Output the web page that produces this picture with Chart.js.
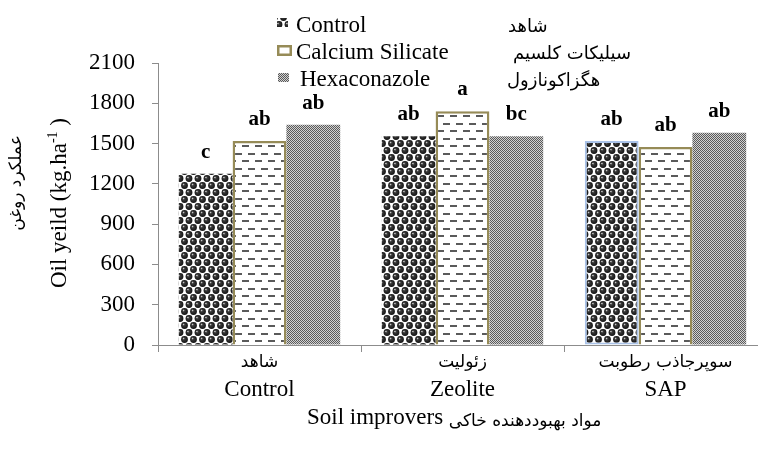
<!DOCTYPE html>
<html>
<head>
<meta charset="utf-8">
<script src="https://cdn.jsdelivr.net/npm/chart.js@4.4.1/dist/chart.umd.min.js"></script>
<style>
html,body{margin:0;padding:0;background:#fff;overflow:hidden;width:758px;height:453px;}
#wrap{width:767px;height:453px;overflow:hidden;}
</style>
</head>
<body>
<div id="wrap"><canvas id="c" width="767" height="453"></canvas></div>
<script>
// ---- data ----
const categories = ['Control', 'Zeolite', 'SAP'];
const categoriesFa = ['شاهد', 'زئولیت', 'سوپرجاذب رطوبت'];
const seriesNames = ['Control', 'Calcium Silicate', 'Hexaconazole'];
const seriesNamesFa = ['شاهد', 'سیلیکات کلسیم', 'هگزاکونازول'];
const controlValues = [1275, 1555, 1520];
const calciumValues = [1520, 1740, 1475];
const hexaValues = [1640, 1555, 1580];
const controlLetters = ['c', 'ab', 'ab'];
const calciumLetters = ['ab', 'a', 'ab'];
const hexaLetters = ['ab', 'bc', 'ab'];
const yTickMin = 0, yTickMax = 2100, yTickStep = 300;
const yTitle = 'Oil yeild (kg.ha';
const yTitleSup = '-1';
const yTitleEnd = ' )';
const yTitleFa = 'عملکرد روغن';
const xTitle = 'Soil improvers';
const xTitleFa = 'مواد بهبوددهنده خاکی';

const SERIF = '"Liberation Serif", "Times New Roman", serif';
const FA = '"DejaVu Sans", sans-serif';

// ---- patterns ----
function spherePattern() {
  const c = document.createElement('canvas'); c.width = 9; c.height = 14;
  const g = c.getContext('2d');
  g.fillStyle = '#ffffff'; g.fillRect(0, 0, 9, 14);
  const centers = [[4.5, 3.5], [0, 10.5], [9, 10.5]];
  centers.forEach(([x, y]) => {
    const gr = g.createRadialGradient(x - 1.2, y - 1.3, 0.2, x, y, 3.5);
    gr.addColorStop(0, '#d8d8d8'); gr.addColorStop(0.3, '#3a3a3a'); gr.addColorStop(1, '#111');
    g.fillStyle = gr; g.beginPath(); g.arc(x, y, 3.4, 0, Math.PI * 2); g.fill();
  });
  return document.getElementById('c').getContext('2d').createPattern(c, 'repeat');
}
function dashPattern() {
  const c = document.createElement('canvas'); c.width = 13; c.height = 15;
  const g = c.getContext('2d');
  g.fillStyle = '#ffffff'; g.fillRect(0, 0, 13, 15);
  g.fillStyle = '#5a5a5a';
  g.fillRect(1, 3, 7, 2);
  g.fillRect(8, 10, 5, 2); g.fillRect(0, 10, 2, 2);
  return document.getElementById('c').getContext('2d').createPattern(c, 'repeat');
}
function checkerPattern() {
  const c = document.createElement('canvas'); c.width = 2; c.height = 2;
  const g = c.getContext('2d');
  g.fillStyle = '#d2d2d2'; g.fillRect(0, 0, 2, 2);
  g.fillStyle = '#5a5a5a'; g.fillRect(0, 0, 1, 1); g.fillRect(1, 1, 1, 1);
  return document.getElementById('c').getContext('2d').createPattern(c, 'repeat');
}
const pSphere = spherePattern(), pDash = dashPattern(), pCheck = checkerPattern();
const OLIVE = '#968b57';
const AXIS = '#8c8c8c';

const letters = [controlLetters, calciumLetters, hexaLetters];

const overlay = {
  id: 'overlay',
  afterDatasetsDraw(chart) {
    const ctx = chart.ctx;
    ctx.save();
    ctx.fillStyle = '#000';
    ctx.font = 'bold 21px ' + SERIF;
    ctx.textAlign = 'center';
    ctx.textBaseline = 'alphabetic';
    chart.data.datasets.forEach((ds, di) => {
      const meta = chart.getDatasetMeta(di);
      meta.data.forEach((bar, i) => {
        ctx.fillText(letters[di][i], bar.x, bar.y - 16);
      });
    });
    ctx.restore();
  },
  afterDraw(chart) {
    const ctx = chart.ctx;
    const xs = chart.scales.x;
    ctx.save();
    ctx.fillStyle = '#000';
    // Persian category labels
    ctx.font = '17px ' + FA;
    ctx.textAlign = 'center';
    ctx.textBaseline = 'middle';
    categoriesFa.forEach((t, i) => {
      ctx.fillText(t, xs.getPixelForValue(i), 363);
    });
    // x title
    ctx.textBaseline = 'alphabetic';
    ctx.textAlign = 'left';
    ctx.font = '23px ' + SERIF;
    ctx.fillText(xTitle, 307, 424);
    const w = ctx.measureText(xTitle + ' ').width;
    ctx.font = '17px ' + FA;
    ctx.fillText(xTitleFa, 307 + w, 426);
    // y title
    ctx.save();
    ctx.translate(58, 203);
    ctx.rotate(-Math.PI / 2);
    ctx.font = '23px ' + SERIF;
    const w1 = ctx.measureText(yTitle).width;
    const w3 = ctx.measureText(yTitleEnd).width;
    ctx.font = '14px ' + SERIF;
    const w2 = ctx.measureText(yTitleSup).width;
    let x0 = -(w1 + w2 + w3) / 2;
    ctx.textAlign = 'left';
    ctx.textBaseline = 'alphabetic';
    ctx.font = '23px ' + SERIF;
    ctx.fillText(yTitle, x0, 8);
    ctx.font = '14px ' + SERIF;
    ctx.fillText(yTitleSup, x0 + w1, -1);
    ctx.font = '23px ' + SERIF;
    ctx.fillText(yTitleEnd, x0 + w1 + w2, 8);
    ctx.restore();
    ctx.save();
    ctx.translate(17, 183);
    ctx.rotate(-Math.PI / 2);
    ctx.font = '17px ' + FA;
    ctx.textAlign = 'center';
    ctx.textBaseline = 'middle';
    ctx.fillText(yTitleFa, 0, 0);
    ctx.restore();
    // legend
    ctx.fillStyle = pSphere; ctx.fillRect(277, 18, 11, 9);
    ctx.fillStyle = '#fff'; ctx.fillRect(278, 46, 13, 9);
    ctx.strokeStyle = OLIVE; ctx.lineWidth = 2.5; ctx.strokeRect(278.25, 46.25, 12.5, 8.5);
    ctx.fillStyle = pCheck; ctx.fillRect(278, 73, 11, 9);
    ctx.fillStyle = '#000';
    ctx.font = '23px ' + SERIF;
    ctx.textAlign = 'left';
    ctx.textBaseline = 'alphabetic';
    const lx = [296, 296, 300], ly = [32, 59, 86];
    seriesNames.forEach((t, i) => ctx.fillText(t, lx[i], ly[i]));
    ctx.font = '18px ' + FA;
    const fx = [508, 513, 507];
    seriesNamesFa.forEach((t, i) => ctx.fillText(t, fx[i], ly[i]));
    ctx.restore();
  }
};

new Chart(document.getElementById('c'), {
  type: 'bar',
  data: {
    labels: categories,
    datasets: [
      { label: seriesNames[0], data: controlValues, backgroundColor: pSphere,
        borderColor: ['rgba(0,0,0,0)', 'rgba(0,0,0,0)', '#a9c2e8'], borderWidth: [0, 0, 2],
        borderSkipped: (c) => c.dataIndex === 2 ? false : 'start' },
      { label: seriesNames[1], data: calciumValues, backgroundColor: pDash, borderColor: OLIVE, borderWidth: 2.5 },
      { label: seriesNames[2], data: hexaValues, backgroundColor: pCheck, borderWidth: 0 }
    ]
  },
  options: {
    responsive: false,
    animation: false,
    devicePixelRatio: 1,
    layout: { padding: { top: 63, left: 0, right: 0, bottom: 0 } },
    datasets: { bar: { categoryPercentage: 0.795, barPercentage: 1.0 } },
    plugins: { legend: { display: false }, tooltip: { enabled: false } },
    scales: {
      x: {
        afterFit: (s) => { s.height = 108; },
        grid: { display: true, drawOnChartArea: false, offset: true, tickLength: 7, color: AXIS },
        border: { display: true, color: AXIS, width: 1 },
        ticks: { color: '#000', font: { family: SERIF, size: 23 }, padding: 24 }
      },
      y: {
        min: yTickMin, max: yTickMax,
        afterFit: (s) => { s.width = 158; },
        grid: { display: true, drawOnChartArea: false, tickLength: 6, color: AXIS },
        border: { display: true, color: AXIS, width: 1 },
        ticks: { stepSize: yTickStep, color: '#000', font: { family: SERIF, size: 23 }, padding: 17,
                 callback: (v) => String(v) }
      }
    }
  },
  plugins: [overlay]
});
</script>
</body>
</html>
